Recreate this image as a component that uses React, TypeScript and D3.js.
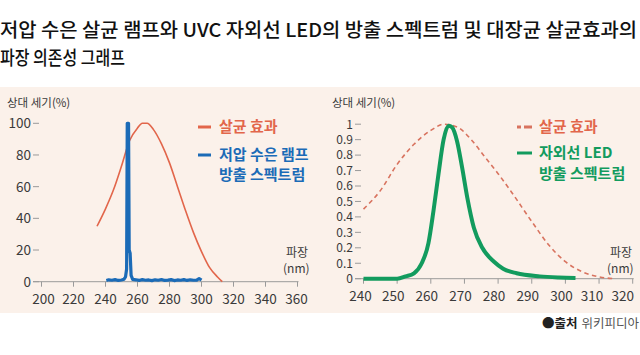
import React from "react";
import * as d3 from "d3";

const FONT = "'Noto Sans CJK KR', 'Noto Sans', sans-serif";

const titleLines = [
  "저압 수은 살균 램프와 UVC 자외선 LED의 방출 스펙트럼 및 대장균 살균효과의",
  "파장 의존성 그래프",
];

// Left chart: germicidal effect (%)
const leftGermNm = [234.7, 240, 245, 250, 255, 260, 263, 266, 270, 275, 280, 285, 290, 295, 300, 305, 310, 313];
const leftGermVal = [35, 46, 58, 73, 89, 97, 100, 100, 96, 87, 75, 60, 45, 31, 19, 9, 3, 0];

// Left chart: low-pressure mercury lamp emission (%)
const lampNm = [240.5, 242, 244, 246, 248, 250, 251.5, 252.5, 253.2, 253.6, 254.4, 254.8, 255.4, 256, 257, 259, 261, 263, 265, 267, 269, 271, 273, 275, 277, 279, 281, 283, 285, 287, 289, 291, 293, 295, 297, 298.5, 300];
const lampVal = [0.8, 1.2, 0.9, 1.3, 0.8, 1.1, 1.5, 3, 8, 100, 100, 20, 18, 4, 1.5, 1.2, 0.8, 1.3, 0.9, 1.1, 0.7, 1.2, 0.9, 1.4, 0.8, 1.0, 1.3, 0.7, 1.1, 0.9, 1.3, 0.8, 1.2, 0.9, 1.0, 2, 1.0];

const leftXTicks = [200, 220, 240, 260, 280, 300, 320, 340, 360];
const leftYTicks = [0, 20, 40, 60, 80, 100];

// Right chart: germicidal effect (relative)
const rightGermNm = [240, 245, 250, 255, 260, 264, 268, 272, 276, 280, 284, 290, 295, 300, 305, 310, 314.5];
const rightGermVal = [0.45, 0.57, 0.74, 0.87, 0.96, 1.0, 0.98, 0.9, 0.79, 0.68, 0.56, 0.37, 0.22, 0.11, 0.045, 0.012, 0];

// Right chart: UV LED emission (relative)
const ledNm = [240, 250, 252.5, 255, 257.3, 259.3, 260.8, 262.3, 263.8, 265.3, 266.3, 267.8, 269.3, 270.8, 272.8, 275.3, 278.8, 281.5, 285.5, 292.4, 298, 303];
const ledVal = [0, 0, 0.015, 0.035, 0.1, 0.23, 0.44, 0.68, 0.9, 0.99, 0.98, 0.89, 0.72, 0.53, 0.33, 0.2, 0.11, 0.065, 0.035, 0.015, 0.008, 0.005];

const rightXTicks = [240, 250, 260, 270, 280, 290, 300, 310, 320];
const rightYTicks = [0, 0.1, 0.2, 0.3, 0.4, 0.5, 0.6, 0.7, 0.8, 0.9, 1];

const RED = "#e2664b";
const RED_DASH = "#d8735f";
const BLUE = "#1b6bb7";
const GREEN = "#129b5e";
const AXIS = "#9a9a9a";
const TEXT = "#3a3a3a";

function Panel(props: {
  xDomain: [number, number];
  xRange: [number, number];
  yDomain: [number, number];
  yRange: [number, number];
  xTicks: number[];
  yTicks: number[];
  yFmt: (v: number) => string;
  axisStart: number;
  labelX: number;
  xLabelShift: (i: number) => number;
  yFont: number;
  children: (x: d3.ScaleLinear<number, number>, y: d3.ScaleLinear<number, number>) => React.ReactNode;
}) {
  const x = d3.scaleLinear().domain(props.xDomain).range(props.xRange);
  const y = d3.scaleLinear().domain(props.yDomain).range(props.yRange);
  const y0 = y(props.yDomain[0]);
  return (
    <g>
      <line x1={props.axisStart} x2={props.xRange[1] + 1} y1={y0} y2={y0} stroke={AXIS} strokeWidth={1} />
      {props.xTicks.map((t, i) => (
        <g key={"x" + t}>
          <line x1={x(t)} x2={x(t)} y1={y0} y2={y0 + 5} stroke={AXIS} strokeWidth={1} />
          <text x={x(t) + props.xLabelShift(i)} y={y0 + 22} textAnchor="middle" fontSize={13.5} fill={TEXT} fontFamily={FONT}>
            {t}
          </text>
        </g>
      ))}
      {props.yTicks.map((t) => (
        <g key={"y" + t}>
          <line x1={props.labelX + 2} x2={props.labelX + 8} y1={y(t)} y2={y(t)} stroke={AXIS} strokeWidth={1} />
          <text x={props.labelX} y={y(t)} dy="0.36em" textAnchor="end" fontSize={props.yFont} fill={TEXT} fontFamily={FONT}>
            {props.yFmt(t)}
          </text>
        </g>
      ))}
      {props.children(x, y)}
    </g>
  );
}

export default function App() {
  const W = 640;
  const H = 355;

  const mkLine = (x: d3.ScaleLinear<number, number>, y: d3.ScaleLinear<number, number>, xs: number[], ys: number[], curve = d3.curveMonotoneX) =>
    d3
      .line<number>()
      .x((_, i) => x(xs[i]))
      .y((d) => y(d))
      .curve(curve)(ys) || "";

  return (
    <svg width={W} height={H} style={{ position: "absolute", left: 0, top: 0, display: "block" }} fontFamily={FONT}>
      <rect x={0} y={0} width={W} height={H} fill="#ffffff" />
      <rect x={0} y={87} width={W} height={226} fill="#fbf1ea" />

      {titleLines.map((t, i) => (
        <text
          key={i}
          x={0}
          y={37 + i * 28}
          fontSize={19}
          fontWeight={500}
          fill="#111"
          textLength={i === 0 ? 637 : 125}
          lengthAdjust="spacingAndGlyphs"
        >
          {t}
        </text>
      ))}

      {/* Left chart */}
      <text x={7} y={107} fontSize={11.5} fill={TEXT}>상대 세기(%)</text>
      <text x={286} y={257} fontSize={12} fill={TEXT}>파장</text>
      <text x={283} y={273} fontSize={12} fill={TEXT}>(nm)</text>
      <Panel
        xDomain={[200, 360]}
        xRange={[41.5, 297.5]}
        yDomain={[0, 100]}
        yRange={[281.7, 123.3]}
        xTicks={leftXTicks}
        yTicks={leftYTicks}
        yFmt={(v) => String(v)}
        axisStart={33}
        labelX={31}
        xLabelShift={(i) => (i === 0 ? 2 : i === leftXTicks.length - 1 ? -1 : 0)}
        yFont={13.5}
      >
        {(x, y) => (
          <g>
            <path d={mkLine(x, y, leftGermNm, leftGermVal)} fill="none" stroke={RED} strokeWidth={1.6} />
            <path d={mkLine(x, y, lampNm, lampVal, d3.curveLinear)} fill="none" stroke={BLUE} strokeWidth={3.2} strokeLinejoin="round" />
          </g>
        )}
      </Panel>
      <line x1={198} x2={211} y1={127} y2={127} stroke={RED} strokeWidth={3} />
      <text x={219} y={127} dy="0.36em" fontSize={15} fontWeight={700} fill={RED}>살균 효과</text>
      <line x1={198} x2={211} y1={155} y2={155} stroke={BLUE} strokeWidth={3} />
      <text x={219} y={155} dy="0.36em" fontSize={15} fontWeight={700} fill={BLUE}>저압 수은 램프</text>
      <text x={219} y={175} dy="0.36em" fontSize={15} fontWeight={700} fill={BLUE}>방출 스펙트럼</text>

      {/* Right chart */}
      <text x={332} y={107} fontSize={11.5} fill={TEXT}>상대 세기(%)</text>
      <text x={610} y={257} fontSize={12} fill={TEXT}>파장</text>
      <text x={607} y={273} fontSize={12} fill={TEXT}>(nm)</text>
      <Panel
        xDomain={[240, 320]}
        xRange={[363.5, 632.7]}
        yDomain={[0, 1]}
        yRange={[278.7, 124.2]}
        xTicks={rightXTicks}
        yTicks={rightYTicks}
        yFmt={(v) => (v === 0 || v === 1 ? String(v) : v.toFixed(1))}
        axisStart={355}
        labelX={353}
        xLabelShift={(i) => (i === 0 ? -3 : i >= 7 ? -7 - (i - 7) * 3 : -4)}
        yFont={12}
      >
        {(x, y) => (
          <g>
            <path d={mkLine(x, y, rightGermNm, rightGermVal)} fill="none" stroke={RED_DASH} strokeWidth={1.6} strokeDasharray="4.5,3.5" />
            <path d={mkLine(x, y, ledNm, ledVal)} fill="none" stroke={GREEN} strokeWidth={4} strokeLinejoin="round" />
          </g>
        )}
      </Panel>
      <line x1={517} x2={521} y1={127} y2={127} stroke={RED_DASH} strokeWidth={3} />
      <line x1={524} x2={532} y1={127} y2={127} stroke={RED_DASH} strokeWidth={3} />
      <text x={539} y={127} dy="0.36em" fontSize={15} fontWeight={700} fill={RED}>살균 효과</text>
      <line x1={517} x2={532} y1={153} y2={153} stroke={GREEN} strokeWidth={3} />
      <text x={539} y={153} dy="0.36em" fontSize={15} fontWeight={700} fill={GREEN}>자외선 LED</text>
      <text x={539} y={174} dy="0.36em" fontSize={15} fontWeight={700} fill={GREEN}>방출 스펙트럼</text>

      {/* Source */}
      <text x={639} y={328} textAnchor="end" fontSize={12.5} fill="#222">
        <tspan>●</tspan>
        <tspan fontWeight={700}>출처</tspan>
        <tspan fill="#555" dx={4}>위키피디아</tspan>
      </text>
    </svg>
  );
}
